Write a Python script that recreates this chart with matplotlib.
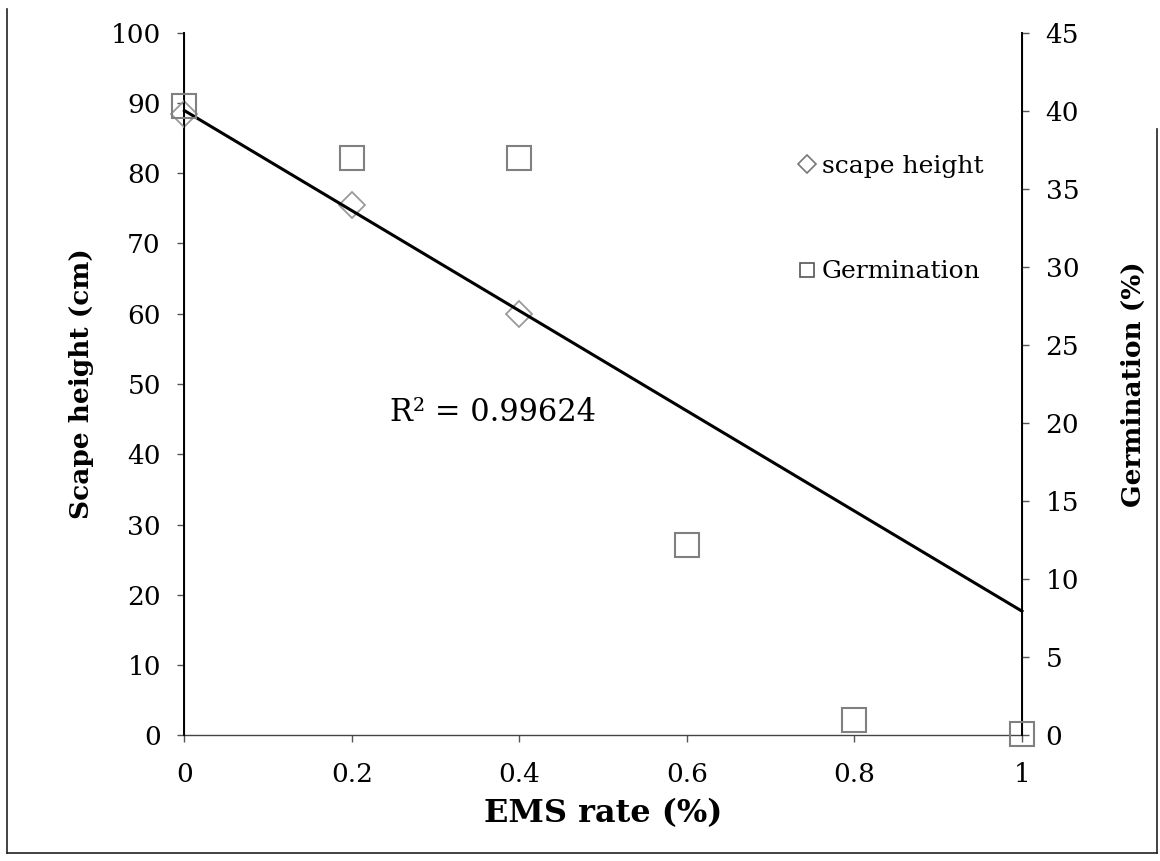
import numpy as np
import matplotlib
matplotlib.use("Agg")
import matplotlib.pyplot as plt
from matplotlib.lines import Line2D

# Data
ems_scape = [0.0, 0.2, 0.4]
scape_height = [88.5, 75.5, 60.0]
ems_germ = [0.0, 0.2, 0.4, 0.6, 0.8, 1.0]
germination = [40.3, 37.0, 37.0, 12.2, 1.0, 0.1]
left_ticks = [0, 10, 20, 30, 40, 50, 60, 70, 80, 90, 100]
right_ticks = [0, 5, 10, 15, 20, 25, 30, 35, 40, 45]
x_ticks = [0, 0.2, 0.4, 0.6, 0.8, 1]
x_ticklabels = ["0", "0.2", "0.4", "0.6", "0.8", "1"]
r2_text = "R² = 0.99624"

plt.rcParams['font.family'] = ['DejaVu Serif']

fig = plt.figure(figsize=(11.6, 8.61), dpi=100)
ax = fig.add_axes([0.159, 0.146, 0.722, 0.816])
ax2 = ax.twinx()

# trend line (linear fit of scape height) across full range
coef = np.polyfit(ems_scape, scape_height, 1)
xx = np.array([0.0, 1.0])
ax.plot(xx, np.polyval(coef, xx), color='black', lw=2.2, zorder=5, clip_on=False)

ax.plot(ems_scape, scape_height, linestyle='none', marker='D', markersize=13,
        markerfacecolor='none', markeredgecolor='#9a9a9a', markeredgewidth=1.3,
        zorder=4, clip_on=False)
ax2.plot(ems_germ, germination, linestyle='none', marker='s', markersize=17,
         markerfacecolor='none', markeredgecolor='#808080', markeredgewidth=1.5,
         zorder=4, clip_on=False)

ax.set_xlim(0, 1)
ax.set_ylim(0, 100)
ax2.set_ylim(0, 45)
ax.set_xticks(x_ticks)
ax.set_xticklabels(x_ticklabels)
ax.set_yticks(left_ticks)
ax2.set_yticks(right_ticks)

for a in (ax, ax2):
    a.spines['top'].set_visible(False)
    a.tick_params(labelsize=19, length=5, width=1, color='#555555', pad=12)
ax.spines['left'].set_linewidth(1.4)
ax2.spines['right'].set_linewidth(1.4)
ax.spines['bottom'].set_linewidth(1.0)
ax.spines['bottom'].set_color('#444444')
ax2.spines['bottom'].set_visible(False)
ax.tick_params(axis='x', pad=14)

ax.set_xlabel("EMS rate (%)", fontsize=23, fontweight='bold', labelpad=8)
ax.set_ylabel("Scape height (cm)", fontsize=19, fontweight='bold', labelpad=12)
ax2.set_ylabel("Germination (%)", fontsize=19, fontweight='bold', labelpad=30)

ax.text(0.245, 46.0, r2_text, fontsize=22, ha='left', va='center')

handles = [
    Line2D([], [], linestyle='none', marker='D', markersize=9, markerfacecolor='none',
           markeredgecolor='#777777', markeredgewidth=1.2, label='scape height'),
    Line2D([], [], linestyle='none', marker='s', markersize=10, markerfacecolor='none',
           markeredgecolor='#555555', markeredgewidth=1.2, label='Germination'),
]
ax2.legend(handles=handles, loc='upper left', bbox_to_anchor=(0.728, 0.826), frameon=False,
           fontsize=18, labelspacing=3.3, handletextpad=0.1, handlelength=1.0,
           borderpad=0, borderaxespad=0)

# outer chart border (left, bottom, right)
for xs, ys in [([0.006, 0.006], [0.009, 0.99]), ([0.006, 0.997], [0.009, 0.009]),
               ([0.997, 0.997], [0.009, 0.85])]:
    fig.add_artist(Line2D(xs, ys, transform=fig.transFigure, color='#222222', lw=1.2))

fig.savefig("out.png", dpi=100)
